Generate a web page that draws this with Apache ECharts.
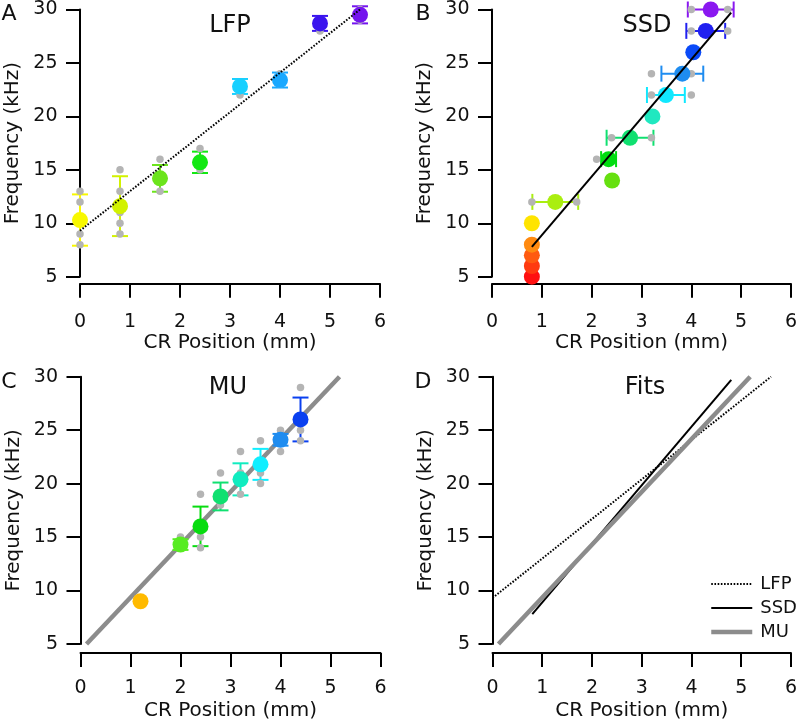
<!DOCTYPE html>
<html>
<head>
<meta charset="utf-8">
<script src="https://cdn.jsdelivr.net/npm/echarts@6/dist/echarts.min.js"></script>
<style>
html,body{margin:0;padding:0;background:#fff;}
#chart{width:800px;height:724px;}
</style>
</head>
<body>
<div id="chart"></div>
<script>
// ---------- DATA ----------
const xTicks = [0, 1, 2, 3, 4, 5, 6];
const yTicks = [5, 10, 15, 20, 25, 30];

// Panel A: LFP
const lfpX    = [0, 0.8, 1.6, 2.4, 3.2, 4.0, 4.8, 5.6];
const lfpMean = [10.3, 11.6, 14.2, 15.7, 22.8, 23.4, 28.7, 29.5];
const lfpErr  = [2.4, 2.8, 1.25, 1.0, 0.7, 0.7, 0.7, 0.8];
const lfpRaw  = [[13, 12, 10, 9, 8], [15, 13, 11, 10, 9], [16, 14, 13], [17, 15], [22, 23], [24, 23], [29, 28], [30, 29]];
const lfpFit  = [[0, 9.3], [5.6, 30.0]];

// Panel B: SSD (horizontal error bars)
const ssdFreq = [5, 6, 7, 8, 10, 12, 14, 16, 18, 20, 22, 24, 26, 28, 30];
const ssdMean = [0.8, 0.8, 0.8, 0.8, 0.8, 1.27, 2.41, 2.34, 2.77, 3.22, 3.49, 3.82, 4.04, 4.29, 4.39];
const ssdErr  = [0, 0, 0, 0, 0, 0.46, 0, 0.15, 0.47, 0, 0.38, 0.42, 0, 0.39, 0.46];
const ssdRaw  = [[0.8], [0.8], [0.8], [0.8], [0.8], [0.8, 1.7], [2.4], [2.1, 2.4], [2.4, 3.2], [3.2], [3.2, 4.0], [3.2, 4.0], [4.0], [4.0, 4.73], [4.0, 4.73]];
const ssdFit  = [[0.8, 7.8], [4.8, 29.7]];

// Panel C: MU
const muX    = [1.2, 2.0, 2.4, 2.8, 3.2, 3.6, 4.0, 4.4];
const muMean = [9.0, 14.3, 16.0, 18.8, 20.4, 21.8, 24.1, 26.0];
const muErr  = [0, 0.5, 1.85, 1.3, 1.5, 1.45, 0.55, 2.05];
const muRaw  = [[9], [15, 14], [19, 14, 15], [21, 19, 18], [23, 21, 19], [24, 21, 20], [25, 23, 24], [29, 24, 25]];
const muFit  = [[0.12, 5.0], [5.18, 30.0]];

// ---------- STYLE ----------
const lfpColors = ['#f8f800', '#d2f200', '#6ce41c', '#12e812', '#18d0ff', '#1aa8ff', '#3a14ee', '#7414ee'];
const ssdColors = ['#ff1010', '#ff3a10', '#ff5a10', '#ff8a10', '#ffe400', '#aaee10', '#66e010', '#00dd10', '#10e070', '#20e8c0', '#10e8ff', '#1e8cf0', '#0a4af8', '#2020f0', '#8a18f0'];
const muColors  = ['#ffba00', '#58ec22', '#08dc10', '#10e070', '#10ecc0', '#10eeff', '#1e8cf0', '#0a40f0'];
const rawColor = '#b4b4b4';
const FONT = 'DejaVu Sans';

const grids = [
  {left: 80, top: 9.3, width: 300, height: 267.4},
  {left: 492, top: 9.3, width: 300, height: 267.4},
  {left: 80.5, top: 376.7, width: 300, height: 267.3},
  {left: 492.5, top: 376.7, width: 300, height: 267.3}
];
const xOffsets = [7, 7, 9, 9];
const xMargins = [29, 29, 26, 26];

function xAxis(i) {
  return {
    gridIndex: i, type: 'value', min: xTicks[0], max: xTicks[xTicks.length - 1], interval: 1,
    offset: xOffsets[i],
    name: 'CR Position (mm)', nameLocation: 'middle', nameGap: 48,
    nameTextStyle: {fontFamily: FONT, fontSize: 20, color: '#111'},
    axisLine: {show: true, onZero: false, lineStyle: {color: '#000', width: 2}},
    axisTick: {show: true, length: 14, lineStyle: {color: '#000', width: 2}},
    axisLabel: {margin: xMargins[i], fontFamily: FONT, fontSize: 19, color: '#111'},
    splitLine: {show: false}
  };
}
function yAxis(i) {
  return {
    gridIndex: i, type: 'value', min: yTicks[0], max: yTicks[yTicks.length - 1], interval: 5,
    name: 'Frequency (kHz)', nameLocation: 'middle', nameGap: 57,
    nameTextStyle: {fontFamily: FONT, fontSize: 20, color: '#111'},
    axisLine: {show: true, onZero: false, lineStyle: {color: '#000', width: 2}},
    axisTick: {show: true, length: 14, lineStyle: {color: '#000', width: 2}},
    axisLabel: {margin: 22.5, fontFamily: FONT, fontSize: 19, color: '#111'},
    splitLine: {show: false}
  };
}

function errSeries(i, data, colors, horizontal) {
  return {
    type: 'custom', xAxisIndex: i, yAxisIndex: i, z: 2, silent: true,
    data: data,
    renderItem: function (params, api) {
      const c = colors[params.dataIndex];
      const st = {stroke: c, lineWidth: 2};
      const w = 8;
      let a, b, caps;
      if (!horizontal) {
        const x = api.value(0);
        a = api.coord([x, api.value(1)]);
        b = api.coord([x, api.value(2)]);
        caps = [
          {type: 'line', shape: {x1: a[0] - w, y1: a[1], x2: a[0] + w, y2: a[1]}, style: st},
          {type: 'line', shape: {x1: b[0] - w, y1: b[1], x2: b[0] + w, y2: b[1]}, style: st}
        ];
      } else {
        const y = api.value(0);
        a = api.coord([api.value(1), y]);
        b = api.coord([api.value(2), y]);
        caps = [
          {type: 'line', shape: {x1: a[0], y1: a[1] - w, x2: a[0], y2: a[1] + w}, style: st},
          {type: 'line', shape: {x1: b[0], y1: b[1] - w, x2: b[0], y2: b[1] + w}, style: st}
        ];
      }
      return {type: 'group', children: [
        {type: 'line', shape: {x1: a[0], y1: a[1], x2: b[0], y2: b[1]}, style: st}
      ].concat(caps)};
    }
  };
}
function rawSeries(i, pts) {
  return {type: 'scatter', xAxisIndex: i, yAxisIndex: i, z: 3, symbolSize: 7.5, silent: true,
    itemStyle: {color: rawColor, opacity: 1}, data: pts};
}
function meanSeries(i, pts, colors) {
  return {type: 'scatter', xAxisIndex: i, yAxisIndex: i, z: 4, symbolSize: 16, silent: true,
    data: pts.map((p, k) => ({value: p, itemStyle: {color: colors[k], opacity: 1}}))};
}
function fitSeries(i, name, pts, style, z) {
  return {type: 'line', name: name, xAxisIndex: i, yAxisIndex: i, z: z || 5, symbol: 'none', silent: true,
    data: pts, lineStyle: style, itemStyle: {color: style.color}};
}

const lfpStyle = {color: '#000', width: 2, type: [1.6, 1.6]};
const ssdStyle = {color: '#000', width: 2, type: 'solid'};
const muStyle = {color: '#8c8c8c', width: 4.5, type: 'solid'};

// Build data for panels
const lfpErrData = lfpX.map((x, k) => [x, lfpMean[k] - lfpErr[k], lfpMean[k] + lfpErr[k]]);
const lfpRawPts = [];
lfpX.forEach((x, k) => lfpRaw[k].forEach(v => lfpRawPts.push([x, v])));
const lfpMeanPts = lfpX.map((x, k) => [x, lfpMean[k]]);

const ssdErrData = [];
ssdFreq.forEach((f, k) => { if (ssdErr[k] > 0) ssdErrData.push([f, ssdMean[k] - ssdErr[k], ssdMean[k] + ssdErr[k]]); });
const ssdErrColors = ssdColors.filter((c, k) => ssdErr[k] > 0);
const ssdRawPts = [];
ssdFreq.forEach((f, k) => ssdRaw[k].forEach(v => ssdRawPts.push([v, f])));
const ssdMeanPts = ssdFreq.map((f, k) => [ssdMean[k], f]);

const muErrData = [];
muX.forEach((x, k) => { if (muErr[k] > 0) muErrData.push([x, muMean[k] - muErr[k], muMean[k] + muErr[k]]); });
const muErrColors = muColors.filter((c, k) => muErr[k] > 0);
const muRawPts = [];
muX.forEach((x, k) => muRaw[k].forEach(v => muRawPts.push([x, v])));
const muMeanPts = muX.map((x, k) => [x, muMean[k]]);

function txt(x, y, s, size) {
  return {type: 'text', x: x, y: y, silent: true,
    style: {text: s, fontFamily: FONT, fontSize: size, fill: '#111', align: 'center', verticalAlign: 'middle'}};
}

const option = {
  animation: false,
  backgroundColor: '#fff',
  grid: grids,
  xAxis: [0, 1, 2, 3].map(xAxis),
  yAxis: [0, 1, 2, 3].map(yAxis),
  legend: {
    show: true, orient: 'vertical', left: 704, top: 570,
    itemWidth: 41, itemHeight: 14, itemGap: 6,
    data: ['LFP', 'SSD', 'MU'],
    itemStyle: {opacity: 0},
    lineStyle: {width: 'inherit'},
    textStyle: {fontFamily: FONT, fontSize: 18, color: '#111', padding: [0, 0, 0, 3]},
    selectedMode: false
  },
  graphic: [
    txt(230, 26, 'LFP', 24),
    txt(647, 26, 'SSD', 24),
    txt(228, 388, 'MU', 24),
    txt(645, 388, 'Fits', 24),
    txt(9, 14, 'A', 22),
    txt(423, 14, 'B', 22),
    txt(9, 382, 'C', 22),
    txt(423, 382, 'D', 22)
  ],
  series: [
    errSeries(0, lfpErrData, lfpColors, false),
    rawSeries(0, lfpRawPts),
    meanSeries(0, lfpMeanPts, lfpColors),
    fitSeries(0, 'LFP-A', lfpFit, lfpStyle),

    errSeries(1, ssdErrData, ssdErrColors, true),
    rawSeries(1, ssdRawPts),
    meanSeries(1, ssdMeanPts, ssdColors),
    fitSeries(1, 'SSD-B', ssdFit, ssdStyle),

    errSeries(2, muErrData, muErrColors, false),
    rawSeries(2, muRawPts),
    meanSeries(2, muMeanPts, muColors),
    fitSeries(2, 'MU-C', muFit, muStyle, 1),

    fitSeries(3, 'LFP', lfpFit, lfpStyle, 5),
    fitSeries(3, 'SSD', ssdFit, ssdStyle, 5),
    fitSeries(3, 'MU', muFit, muStyle, 6)
  ]
};

const chart = echarts.init(document.getElementById('chart'), null, {renderer: 'canvas'});
chart.setOption(option);
</script>
</body>
</html>
